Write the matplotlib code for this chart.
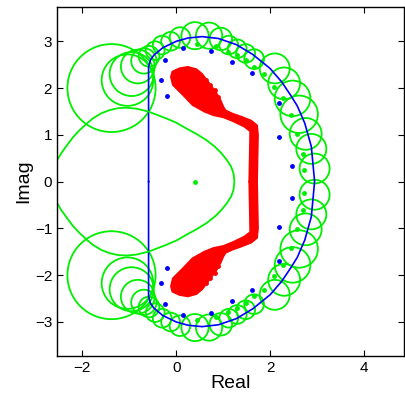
import numpy as np
import matplotlib.pyplot as plt
from matplotlib.patches import Circle, Polygon

plt.rcParams["font.family"] = ["Liberation Sans", "DejaVu Sans"]

# boundary curve, upper half (mirrored below)
bound_x = [-0.59, -0.59, -0.55, -0.48, -0.29, 0.0, 0.25, 0.55, 0.9, 1.28, 1.63, 2.0, 2.25, 2.45, 2.58, 2.74, 2.88, 2.95]
bound_y = [0.0, 2.45, 2.6, 2.7, 2.86, 3.0, 3.07, 3.1, 3.06, 2.93, 2.72, 2.42, 2.13, 1.83, 1.62, 1.25, 0.75, 0.0]

# blue eigenvalue dots, upper half
blue_x = [-0.32, -0.19, -0.23, 0.15, 0.75, 1.19, 1.61, 2.20, 2.20, 2.47]
blue_y = [2.17, 1.84, 2.61, 2.85, 2.80, 2.56, 2.32, 1.69, 0.96, 0.34]

# green circles, upper half: centre x, centre y, radius
circ_x = [-1.38, -1.04, -0.95, -0.82, -0.69, -0.58, -0.45, -0.30, -0.12, 0.08,
          0.40, 0.70, 0.95, 1.12, 1.30, 1.48, 1.66, 2.10, 2.30, 2.48, 2.62, 2.76, 2.88, 2.95]
circ_y = [2.00, 2.17, 2.30, 2.46, 2.58, 2.68, 2.80, 2.92, 3.00, 3.08,
          3.12, 3.12, 3.05, 2.92, 2.84, 2.74, 2.62, 2.42, 2.10, 1.78, 1.44, 1.02, 0.70, 0.28]
circ_r = [0.94, 0.55, 0.47, 0.36, 0.27, 0.22, 0.20, 0.20, 0.20, 0.22,
          0.29, 0.28, 0.24, 0.20, 0.20, 0.20, 0.21, 0.32, 0.34, 0.38, 0.40, 0.34, 0.32, 0.32]

# green dots inside the circles, upper half
gdot_x = [0.45, 0.85, 1.10, 1.30, 1.48, 1.66, 1.88, 2.08, 2.27, 2.45, 2.57, 2.70, 2.72]
gdot_y = [2.95, 2.90, 2.78, 2.70, 2.60, 2.45, 2.31, 2.02, 1.79, 1.42, 1.01, 0.60, 0.25]

# large green curve, upper half
big_x = [-2.75, -2.54, -2.45, -2.35, -2.20, -2.06, -1.92, -1.78, -1.60, -1.42, -1.24, -1.07, -0.85,
         -0.60, -0.39, -0.21, 0.0, 0.21, 0.43, 0.64, 0.82, 0.96, 1.08, 1.17, 1.22, 1.24]
big_y = [0.0, 0.46, 0.61, 0.75, 0.95, 1.10, 1.23, 1.35, 1.46, 1.53, 1.57, 1.58, 1.56,
         1.50, 1.42, 1.35, 1.26, 1.14, 1.02, 0.89, 0.75, 0.61, 0.46, 0.32, 0.18, 0.0]

centre_dot = (0.405, 0.0)

# red band outline, upper half (outer edge then inner edge)
red_outer_x = [-0.11, -0.08, 0.07, 0.25, 0.43, 0.55, 0.70, 0.85, 0.95, 1.00, 1.05, 1.20, 1.40, 1.60, 1.72, 1.74, 1.73, 1.72]
red_outer_y = [2.24, 2.35, 2.42, 2.45, 2.40, 2.30, 2.10, 1.90, 1.72, 1.60, 1.52, 1.45, 1.38, 1.30, 1.20, 1.00, 0.50, 0.0]
red_inner_x = [1.56, 1.57, 1.58, 1.45, 1.20, 1.00, 0.80, 0.60, 0.35, 0.15, -0.07]
red_inner_y = [0.0, 0.50, 1.08, 1.18, 1.30, 1.38, 1.42, 1.50, 1.64, 1.85, 2.07]
red_dot_x = [0.50, 0.64, 0.71, 0.82, 0.89, 0.57, 0.67, 0.78]
red_dot_y = [2.21, 2.17, 2.07, 1.96, 1.80, 2.03, 1.92, 1.82]

GREEN = "#00ee00"

fig = plt.figure(figsize=(4.05, 3.97), dpi=100)
ax = fig.add_axes([0.141, 0.103, 0.857, 0.879])

# red region (upper outline, then mirrored lower half)
ux = red_outer_x + red_inner_x
uy = red_outer_y + red_inner_y
lower = [(x, -y) for x, y in zip(ux, uy)]
ax.add_patch(Polygon(list(zip(ux, uy)), closed=True, facecolor="red", edgecolor="red", lw=1.5))
ax.add_patch(Polygon(lower, closed=True, facecolor="red", edgecolor="red", lw=1.5))
for s in (1, -1):
    ax.plot(red_dot_x, [s * y for y in red_dot_y], "o", color="red", ms=3.5, mec="none")

# boundary
bx = np.array(bound_x)
by = np.array(bound_y)
ax.plot(np.r_[bx, bx[::-1]], np.r_[by, -by[::-1]], color="blue", lw=1.2)
ax.plot(blue_x + blue_x, blue_y + [-y for y in blue_y], "o", color="blue", ms=3.5, mec="none")

# green circles
for x, y, r in zip(circ_x, circ_y, circ_r):
    for s in (1, -1):
        ax.add_patch(Circle((x, s * y), r, fill=False, edgecolor=GREEN, lw=1.3))
ax.plot(gdot_x + gdot_x, gdot_y + [-y for y in gdot_y], "o", color=GREEN, ms=3.5, mec="none")

gx = np.array(big_x)
gy = np.array(big_y)
ax.plot(np.r_[gx, gx[::-1]], np.r_[gy, -gy[::-1]], color=GREEN, lw=1.3)
ax.plot(*centre_dot, "o", color=GREEN, ms=3.5, mec="none")

ax.set_xlim(-2.54, 4.86)
ax.set_ylim(-3.73, 3.73)
ax.set_xticks([-2, 0, 2, 4])
ax.set_yticks([-3, -2, -1, 0, 1, 2, 3])
ax.tick_params(direction="in", top=True, right=True, length=4, labelsize=11)
for sp in ax.spines.values():
    sp.set_linewidth(1.0)
ax.set_xlabel("Real", fontsize=14, labelpad=0)
ax.set_ylabel("Imag", fontsize=14, labelpad=2)

fig.savefig("out.png", dpi=100)
